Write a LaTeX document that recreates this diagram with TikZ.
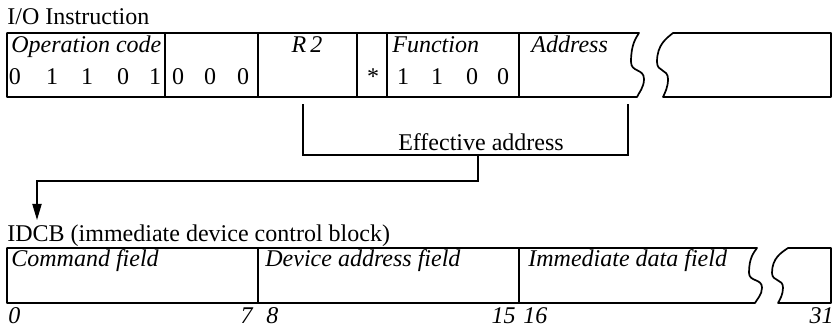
\documentclass[tikz,border=0pt]{standalone}
\usepackage{fontspec}
\setmainfont{Liberation Serif}
\usetikzlibrary{arrows.meta,positioning}

% bent edge of a cut-off register: top corner (#1,#2), bottom at y=#3,
% #4 = leftmost swing, #5 = right bulge, #6 = bottom corner (x offsets)
\newcommand{\cutedge}[6]{%
  (#1,#2) .. controls ({#1+0.4*(#4)},{#2+0.08*(#3-#2)}) and ({#1+#4},{#2+0.18*(#3-#2)}) .. ({#1+#4},{#2+0.45*(#3-#2)})
  .. controls ({#1+#4},{#2+0.62*(#3-#2)}) and ({#1+#5},{#2+0.55*(#3-#2)}) .. ({#1+#5},{#2+0.72*(#3-#2)})
  .. controls ({#1+#5},{#2+0.85*(#3-#2)}) and ({#1+#6+2},{#2+0.93*(#3-#2)}) .. ({#1+#6},#3)}

\begin{document}
\begin{tikzpicture}[%
    x=0.5pt, y=-0.5pt,          % one unit per pixel, y runs downwards
    >={Triangle[length=8pt,width=4.6pt]},
    every node/.style={inner sep=0pt, font=\fontsize{12}{14}\selectfont},
    ]
% -------------------------------------------------
% Styles for registers, field labels and bit numbers
\tikzset{
  reg/.style={draw, line width=0.85pt, line join=round},
  sep/.style={draw, line width=0.85pt},
  lbl/.style={anchor=base west, font=\fontsize{12}{14}\selectfont\itshape},
  bit/.style={anchor=base},
  num/.style={font=\fontsize{12}{14}\selectfont\itshape},
  link/.style={draw, line width=0.6pt},
}
\useasboundingbox (0,0) rectangle (834,328);
% -------------------------------------------------
% The I/O instruction
\node[anchor=base west] (iotitle) at (7,24) {I/O Instruction};
\draw[reg] (7,33) -- \cutedge{639}{33}{97}{-8}{5}{-2} -- (7,97) -- cycle;
\draw[reg] \cutedge{673}{33}{97}{-16}{-5}{-10} -- (831,97) -- (831,33) -- cycle;
\foreach \x in {165,258,357,387,519}
  \draw[sep] (\x,33) -- (\x,97);

\node[lbl] (opcode) at (11,52) {Operation code};
\node[lbl, anchor=base] (rtwo) at (307,52) {R\,2};
\node[lbl] (func) at (392,52) {Function};
\node[lbl] (addr) at (531,52) {Address};

\foreach \x/\b [count=\i] in {15/0,52/1,87/1,123/0,155/1}
  \node[bit] (op\i) at (\x,84) {\b};
\foreach \x [count=\i] in {178,210,243}
  \node[bit] (zr\i) at (\x,84) {0};
\node[bit] (star) at (373,84) {*};
\foreach \x/\b [count=\i] in {403/1,437/1,472/0,503/0}
  \node[bit] (fn\i) at (\x,84) {\b};
% -------------------------------------------------
% Effective address bracket and the arrow down to the IDCB
\coordinate (rtwoleg) at (303,104);
\coordinate (addrleg) at (628,104);
\coordinate (join) at (478,155);
\coordinate (bend) at (37,181);
\draw[link] (rtwoleg) |- (join) -| (addrleg);
\node[anchor=base] (effaddr) at (481,150) {Effective address};

\node[anchor=base west] (idcbtitle) at (7,241) {IDCB (immediate device control block)};
\draw[link, ->] (join) |- (bend) -- ([yshift=2pt]bend |- idcbtitle.north);
% -------------------------------------------------
% The IDCB
\draw[reg] (7,248) -- \cutedge{757}{248}{303}{-8}{5}{-2} -- (7,303) -- cycle;
\draw[reg] \cutedge{788}{248}{303}{-16}{-5}{-10} -- (831,303) -- (831,248) -- cycle;
\foreach \x in {258,519}
  \draw[sep] (\x,248) -- (\x,303);

\node[lbl] (cmd) at (11,266) {Command field};
\node[lbl] (devaddr) at (265,266) {Device address field};
\node[lbl] (immdata) at (528,266) {Immediate data field};

\node[num, anchor=base west] (bzero) at (8,323) {0};
\node[num, anchor=base east] (bseven) at (253,323) {7};
\node[num, anchor=base west] (beight) at (266,323) {8};
\node[num, anchor=base east] (bfifteen) at (516,323) {15};
\node[num, anchor=base west] (bsixteen) at (523,323) {16};
\node[num, anchor=base east] (bthirtyone) at (834,323) {31};
% -------------------------------------------------
\end{tikzpicture}
\end{document}
